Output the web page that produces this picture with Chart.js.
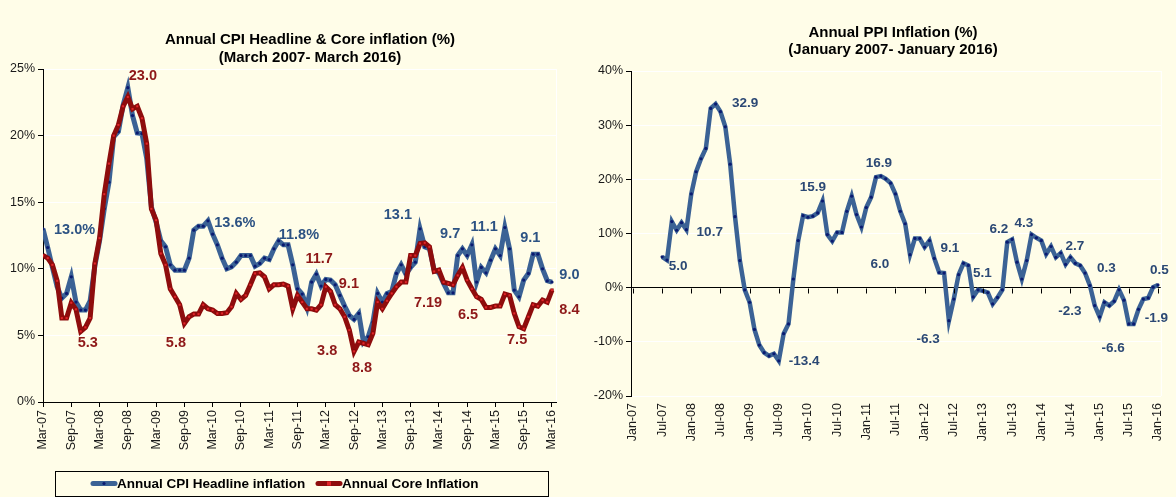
<!DOCTYPE html>
<html><head><meta charset="utf-8">
<script src="https://cdn.jsdelivr.net/npm/chart.js@4.4.1/dist/chart.umd.min.js"></script>
<style>
html,body{margin:0;padding:0;background:#FFFDE8;}
#wrap{position:relative;width:1176px;height:497px;overflow:hidden;background:#FFFDE8;}
#c1box{position:absolute;left:0;top:0;width:590px;height:497px;}
#c2box{position:absolute;left:590px;top:0;width:586px;height:497px;}
</style></head><body>
<div id="wrap"><div id="c1box"><canvas id="c1"></canvas></div><div id="c2box"><canvas id="c2"></canvas></div></div>
<script>
// ---------------- DATA ----------------
const cpiTickLabels = ['Mar-07','Sep-07','Mar-08','Sep-08','Mar-09','Sep-09','Mar-10','Sep-10','Mar-11','Sep-11','Mar-12','Sep-12','Mar-13','Sep-13','Mar-14','Sep-14','Mar-15','Sep-15','Mar-16'];
const ppiTickLabels = ['Jan-07','Jul-07','Jan-08','Jul-08','Jan-09','Jul-09','Jan-10','Jul-10','Jan-11','Jul-11','Jan-12','Jul-12','Jan-13','Jul-13','Jan-14','Jul-14','Jan-15','Jul-15','Jan-16'];

// Monthly, Mar-07 .. Mar-16
const cpiHeadline = [
  13.0, 11.6, 10.1, 8.65, 7.8, 8.15, 9.4, 7.5, 6.9, 6.9,
  7.6, 10.2, 12.1, 14.5, 16.5, 19.9, 20.3, 22.3, 23.6, 21.5,
  20.2, 20.15, 18.3, 14.65, 13.5, 12.1, 11.65, 10.3, 9.9, 9.9,
  9.9, 10.8, 12.9, 13.2, 13.2, 13.6, 12.6, 11.8, 10.8, 10.0,
  10.15, 10.5, 11.0, 11.0, 11.0, 10.2, 10.4, 10.8, 10.7, 11.5,
  12.1, 11.8, 11.8, 10.3, 8.5, 8.1, 7.1, 9.0, 9.6, 8.7,
  9.2, 9.15, 8.8, 8.0, 7.2, 6.5, 6.2, 6.65, 4.5, 4.9,
  6.0, 8.15, 7.5, 8.15, 8.3, 9.65, 10.3, 9.6, 10.1, 10.5,
  13.0, 11.65, 11.5, 9.9, 9.7, 8.9, 8.2, 8.2, 11.0, 11.5,
  11.0, 11.8, 9.0, 10.1, 9.7, 10.65, 11.5, 11.0, 13.1, 11.5,
  8.4, 7.9, 9.15, 9.65, 11.1, 11.1, 10.0, 9.1, 9.0
];
const cpiCore = [
  11.0, 10.8, 10.3, 9.1, 6.3, 6.3, 7.45, 6.95, 5.3, 5.6,
  6.3, 10.4, 12.3, 15.6, 17.9, 20.0, 20.8, 22.2, 22.9, 22.0,
  22.2, 21.3, 19.4, 14.5, 13.65, 11.15, 10.3, 8.5, 7.9, 7.3,
  5.9, 6.4, 6.6, 6.6, 7.3, 7.0, 6.9, 6.65, 6.65, 6.7,
  7.15, 8.15, 7.7, 8.0, 8.8, 9.65, 9.7, 9.4, 8.5, 8.8,
  8.8, 8.85, 8.7, 7.0, 8.0, 7.5, 7.0, 7.0, 6.9, 7.3,
  8.65, 8.3, 7.3, 7.0, 6.4, 5.4, 3.8, 4.5, 4.4, 4.3,
  5.15, 7.5, 7.0, 7.6, 8.15, 8.65, 9.0, 9.0, 11.0, 11.0,
  11.9, 11.95, 11.65, 9.8, 9.9, 9.0, 8.9, 8.8, 9.5, 10.1,
  9.15, 8.5, 7.9, 7.7, 7.1, 7.1, 7.2, 7.2, 8.1, 8.0,
  6.65, 5.65, 5.5, 6.4, 7.3, 7.2, 7.65, 7.5, 8.4
];
// Monthly, Jan-07 .. Jan-16 (no data before Jul-07)
const ppiInflation = [
  null, null, null, null, null, null,
  5.7, 5.1, 12.2, 10.6, 12.0, 10.7, 17.3, 21.4, 23.8, 25.7,
  33.1, 33.9, 32.5, 29.7, 22.8, 13.1, 5.0, -0.4, -2.7, -7.7,
  -10.6, -12.0, -12.6, -12.2, -13.5, -8.5, -6.7, 1.6, 8.7, 13.3,
  13.0, 13.2, 13.8, 16.0, 9.8, 8.6, 10.2, 10.2, 14.1, 16.9,
  13.5, 11.2, 14.8, 16.7, 20.4, 20.6, 20.1, 19.3, 17.3, 14.1,
  11.8, 6.1, 9.1, 9.1, 7.5, 8.7, 5.4, 2.8, 2.7, -6.1,
  -2.1, 2.4, 4.5, 4.1, -1.7, -0.4, -0.6, -0.9, -3.0, -1.8,
  -0.4, 8.4, 8.9, 4.7, 1.6, 5.0, 9.8, 9.2, 8.7, 6.2,
  7.6, 5.6, 6.4, 4.3, 5.6, 4.5, 4.1, 2.7, 0.4, -3.3,
  -5.4, -2.7, -3.3, -2.5, -0.4, -2.3, -6.7, -6.7, -4.0, -2.1,
  -1.9, 0.1, 0.5
];
const cpiSeriesNames = ['Annual CPI Headline inflation', 'Annual Core Inflation'];
const ppiSeriesName = 'PPI';
const cpiTitle = ['Annual CPI Headline & Core inflation (%)', '(March 2007- March 2016)'];
const ppiTitle = ['Annual PPI Inflation (%)', '(January 2007- January 2016)'];

// Data call-out texts, anchored in data units [month index, percent]
const cpiCallouts = [
  {s:0, text:'13.0%', at:[6.7,12.9]},
  {s:1, text:'23.0',  at:[21.2,24.46]},
  {s:0, text:'13.6%', at:[40.7,13.43]},
  {s:0, text:'11.8%', at:[54.3,12.53]},
  {s:1, text:'11.7',  at:[58.6,10.73]},
  {s:1, text:'9.1',   at:[64.9,8.85]},
  {s:1, text:'3.8',   at:[60.3,3.83]},
  {s:1, text:'8.8',   at:[67.7,2.55]},
  {s:1, text:'5.3',   at:[9.5,4.43]},
  {s:1, text:'5.8',   at:[28.2,4.43]},
  {s:0, text:'13.1',  at:[75.3,14.03]},
  {s:1, text:'7.19',  at:[81.7,7.43]},
  {s:0, text:'9.7',   at:[86.4,12.6]},
  {s:0, text:'11.1',  at:[93.6,13.13]},
  {s:1, text:'6.5',   at:[90.2,6.53]},
  {s:0, text:'9.1',   at:[103.4,12.3]},
  {s:1, text:'7.5',   at:[100.6,4.65]},
  {s:0, text:'9.0',   at:[111.7,9.53]},
  {s:1, text:'8.4',   at:[111.7,6.9]}
];
const ppiCallouts = [
  {text:'32.9', at:[23.1,34.1]},
  {text:'10.7', at:[15.8,10.3]},
  {text:'5.0',  at:[9.3,3.87]},
  {text:'-13.4',at:[35.2,-13.65]},
  {text:'15.9', at:[37.0,18.45]},
  {text:'16.9', at:[50.6,22.9]},
  {text:'6.0',  at:[50.8,4.24]},
  {text:'9.1',  at:[65.2,7.2]},
  {text:'-6.3', at:[60.7,-9.6]},
  {text:'5.1',  at:[71.9,2.58]},
  {text:'6.2',  at:[75.3,10.7]},
  {text:'4.3',  at:[80.4,11.8]},
  {text:'2.7',  at:[90.9,7.56]},
  {text:'-2.3', at:[89.9,-4.43]},
  {text:'0.3',  at:[97.4,3.5]},
  {text:'-6.6', at:[98.8,-11.25]},
  {text:'0.5',  at:[108.3,3.14]},
  {text:'-1.9', at:[107.7,-5.72]}
];

// ---------------- STYLE ----------------
const FONT = "'Liberation Sans', Arial, Helvetica, sans-serif";
const BLUE = '#3B6295', BLUE_DOT = '#0A1A70', BLUE_TXT = '#2C5283', BLUE_TXT2 = '#2B4874';
const RED = '#8E0D0D', RED_DOT = '#E3262A', RED_TXT = '#8E1818';
const TICK_TXT = '#1A1A1A';

const toXY = arr => arr.map((v, i) => ({x: i, y: v}));

function titlePlugin(lines, cx, y1, y2) {
  return {
    id: 'fixedTitle',
    afterDraw(chart) {
      const ctx = chart.ctx; ctx.save();
      ctx.fillStyle = '#000'; ctx.font = 'bold 15px ' + FONT;
      ctx.textAlign = 'center'; ctx.textBaseline = 'middle';
      ctx.fillText(lines[0], cx, y1); ctx.fillText(lines[1], cx, y2);
      ctx.restore();
    }
  };
}
function calloutPlugin(list, size, colorFn) {
  return {
    id: 'callouts',
    afterDraw(chart) {
      const ctx = chart.ctx, xs = chart.scales.x, ys = chart.scales.y;
      ctx.save();
      ctx.font = 'bold ' + size + 'px ' + FONT;
      ctx.textAlign = 'center'; ctx.textBaseline = 'middle';
      list.forEach(c => {
        ctx.fillStyle = colorFn(c);
        ctx.fillText(c.text, xs.getPixelForValue(c.at[0]), ys.getPixelForValue(c.at[1]));
      });
      ctx.restore();
    }
  };
}
const frameBehind = {
  id: 'frameBehind',
  beforeDatasetsDraw(chart) {
    const {ctx, chartArea: a} = chart;
    ctx.save(); ctx.strokeStyle = '#FFFFFF'; ctx.lineWidth = 1;
    ctx.beginPath(); ctx.moveTo(a.right + 0.5, a.top); ctx.lineTo(a.right + 0.5, a.bottom); ctx.stroke();
    ctx.restore();
  }
};
const legendPlugin = {
  id: 'boxLegend',
  afterDraw(chart) {
    const ctx = chart.ctx; ctx.save();
    ctx.strokeStyle = '#000'; ctx.lineWidth = 1;
    ctx.strokeRect(55.5, 471.5, 493, 25);
    const items = [
      {x: 93, color: BLUE, dot: BLUE_DOT, text: cpiSeriesNames[0], rect: false},
      {x: 318, color: RED, dot: RED_DOT, text: cpiSeriesNames[1], rect: true}
    ];
    ctx.font = 'bold 13.5px ' + FONT; ctx.textBaseline = 'middle'; ctx.textAlign = 'left';
    items.forEach(it => {
      ctx.strokeStyle = it.color; ctx.lineWidth = 5; ctx.lineCap = 'round';
      ctx.beginPath(); ctx.moveTo(it.x, 483.5); ctx.lineTo(it.x + 22, 483.5); ctx.stroke();
      ctx.fillStyle = it.dot;
      if (it.rect) ctx.fillRect(it.x + 9, 481.5, 4, 4);
      else { ctx.beginPath(); ctx.arc(it.x + 11, 483.5, 1.6, 0, Math.PI * 2); ctx.fill(); }
      ctx.fillStyle = '#000';
      ctx.fillText(it.text, it.x + 24, 484);
    });
    ctx.restore();
  }
};
const ppiZeroTicks = {
  id: 'zeroTicks',
  afterDatasetsDraw(chart) {
    const {ctx} = chart, xs = chart.scales.x, ys = chart.scales.y;
    const y0 = Math.round(ys.getPixelForValue(0)) + 0.5;
    ctx.save(); ctx.strokeStyle = '#000'; ctx.lineWidth = 1;
    for (let i = 0; i < ppiTickLabels.length; i++) {
      const x = Math.round(xs.getPixelForValue(i * 6)) + 0.5;
      ctx.beginPath(); ctx.moveTo(x, y0); ctx.lineTo(x, y0 + 5); ctx.stroke();
    }
    ctx.restore();
  }
};

Chart.defaults.font.family = FONT;
Chart.defaults.animation = false;

// ---------------- LEFT CHART ----------------
new Chart(document.getElementById('c1'), {
  type: 'line',
  data: {
    datasets: [
      {label: cpiSeriesNames[0], data: toXY(cpiHeadline), borderColor: BLUE, borderWidth: 5,
       pointRadius: 1.6, pointBackgroundColor: BLUE_DOT, pointBorderWidth: 0, tension: 0, order: 1},
      {label: cpiSeriesNames[1], data: toXY(cpiCore), borderColor: RED, borderWidth: 5,
       pointStyle: 'rect', pointRadius: 2, pointBackgroundColor: RED_DOT, pointBorderColor: '#7A0000',
       pointBorderWidth: 0.5, tension: 0, order: 0}
    ]
  },
  options: {
    responsive: true, maintainAspectRatio: false,
    layout: {padding: {left: 0, right: 34, top: 69, bottom: 40}},
    plugins: {legend: {display: false}, tooltip: {enabled: false}, title: {display: false}},
    scales: {
      x: {
        type: 'linear', min: 0, max: 108.85,
        afterFit: s => { s.height = 55; },
        border: {display: true, color: '#000', width: 1},
        grid: {drawOnChartArea: false, tickLength: 5, tickColor: '#000'},
        ticks: {stepSize: 6, autoSkip: false, maxRotation: 90, minRotation: 90, includeBounds: false,
                color: TICK_TXT, font: {size: 12.5}, padding: 3,
                callback: v => cpiTickLabels[v / 6] ?? ''}
      },
      y: {
        min: 0, max: 25,
        afterFit: s => { s.width = 43; },
        border: {display: true, color: '#000', width: 1},
        grid: {color: c => c.tick && c.tick.value === 0 ? '#000' : '#FFFFFF', tickLength: 5, tickColor: '#000'},
        ticks: {stepSize: 5, color: TICK_TXT, font: {size: 12.5}, padding: 3, callback: v => v + '%'}
      }
    }
  },
  plugins: [frameBehind, titlePlugin(cpiTitle, 310, 40, 58),
            calloutPlugin(cpiCallouts, 14.5, c => c.s === 0 ? BLUE_TXT : RED_TXT), legendPlugin]
});

// ---------------- RIGHT CHART ----------------
new Chart(document.getElementById('c2'), {
  type: 'line',
  data: {
    datasets: [
      {label: ppiSeriesName, data: toXY(ppiInflation), borderColor: BLUE, borderWidth: 4.5,
       pointRadius: 1.6, pointBackgroundColor: BLUE_DOT, pointBorderWidth: 0, tension: 0, spanGaps: false}
    ]
  },
  options: {
    responsive: true, maintainAspectRatio: false,
    layout: {padding: {left: 0, right: 8, top: 71, bottom: 46}},
    plugins: {legend: {display: false}, tooltip: {enabled: false}, title: {display: false}},
    scales: {
      x: {
        type: 'linear', min: -0.4, max: 108.6,
        afterFit: s => { s.height = 55; },
        border: {display: false},
        grid: {drawOnChartArea: false, tickLength: 4, tickColor: 'rgba(0,0,0,0)'},
        ticks: {stepSize: 6, autoSkip: false, maxRotation: 90, minRotation: 90, includeBounds: false,
                color: TICK_TXT, font: {size: 12.5}, padding: 3,
                callback: v => (v >= 0 && v % 6 === 0) ? (ppiTickLabels[v / 6] ?? '') : ''}
      },
      y: {
        min: -20, max: 40,
        afterFit: s => { s.width = 41; },
        border: {display: true, color: '#000', width: 1},
        grid: {color: c => c.tick && c.tick.value === 0 ? '#000' : '#FFFFFF', tickLength: 5, tickColor: '#000'},
        ticks: {stepSize: 10, color: TICK_TXT, font: {size: 12.5}, padding: 3, callback: v => v + '%'}
      }
    }
  },
  plugins: [frameBehind, titlePlugin(ppiTitle, 303, 33, 50),
            calloutPlugin(ppiCallouts, 13.5, () => BLUE_TXT2), ppiZeroTicks]
});
</script>
</body></html>
